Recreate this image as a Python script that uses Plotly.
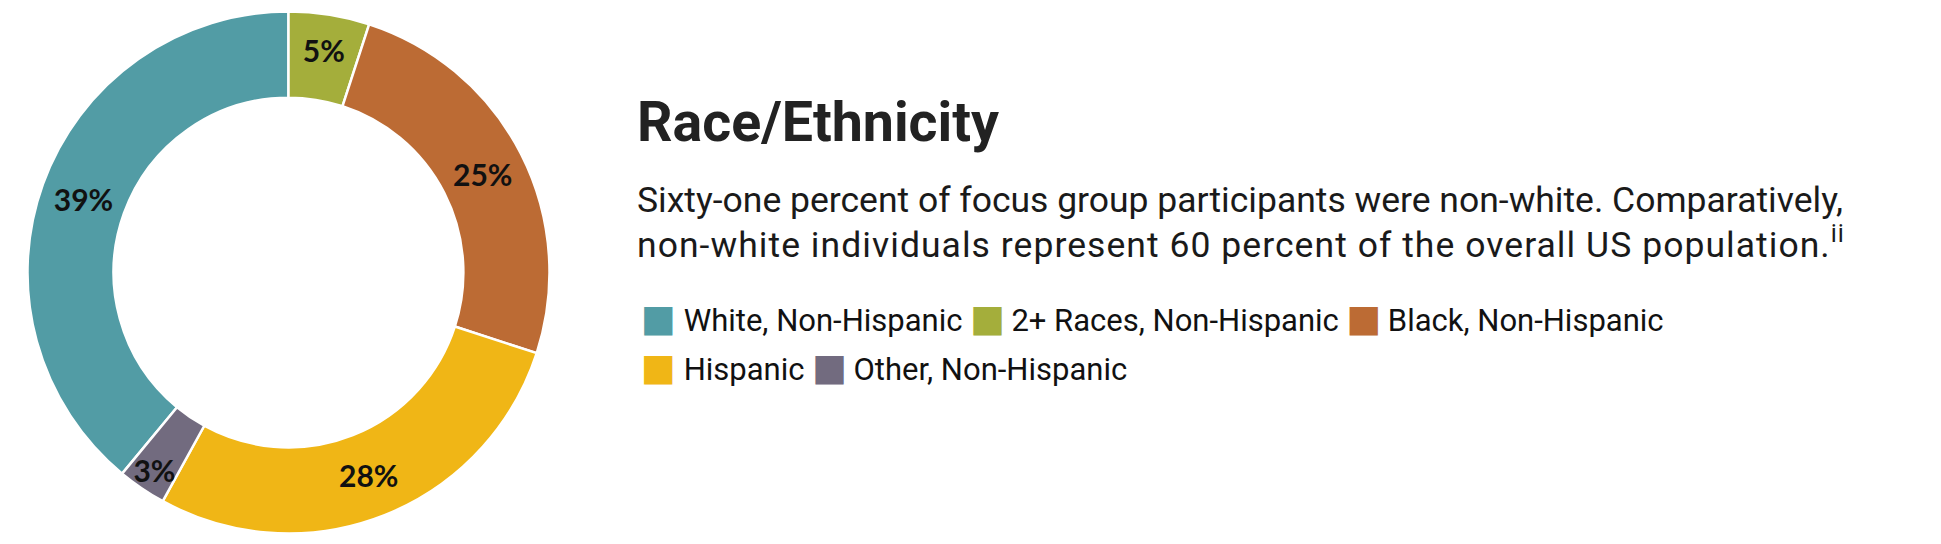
import plotly.graph_objects as go

# ---- data ----
labels = ["White, Non-Hispanic", "2+ Races, Non-Hispanic", "Black, Non-Hispanic",
          "Hispanic", "Other, Non-Hispanic"]
values = [39, 5, 25, 28, 3]
colors = ["#529CA5", "#A4AE3B", "#BC6B34", "#F0B616", "#726B7F"]

title_text = "Race/Ethnicity"
body_lines = [
    "Sixty-one percent of focus group participants were non-white. Comparatively,",
    "non-white individuals represent 60 percent of the overall US population.<sup>ii</sup>",
]
legend_rows = [[0, 1, 2], [3, 4]]

W, H = 1941, 544


def px_x(v):
    return v / W


def px_y(v):
    return 1 - v / H


fig = go.Figure()
fig.add_trace(go.Pie(
    labels=labels,
    values=values,
    marker=dict(colors=colors, line=dict(color="white", width=2.5)),
    hole=0.67,
    sort=False,
    direction="clockwise",
    rotation=360 * sum(values[1:]) / sum(values),
    textinfo="percent",
    textposition="inside",
    insidetextorientation="horizontal",
    textfont=dict(family="Lato", size=30, color="#111111", weight=700),
    domain=dict(x=[px_x(19.5), px_x(541.5)], y=[px_y(525.5), px_y(3.5)]),
    hoverinfo="skip",
    showlegend=False,
))

annotations = [
    dict(text=title_text, x=px_x(627), y=px_y(114), xanchor="left", yanchor="middle",
         font=dict(family="Roboto", size=55.5, color="#222222", weight=700)),
]
# second line of the paragraph is set a little looser in the original
body_y = [192, 234]
body_spacing = ["0px", "1.05px"]
for line, yy, ls in zip(body_lines, body_y, body_spacing):
    annotations.append(dict(text=f"<span style='letter-spacing:{ls}'>{line}</span>",
                            x=px_x(627), y=px_y(yy),
                            xanchor="left", yanchor="middle",
                            font=dict(family="Roboto", size=35.5, color="#1a1a1a")))

# legend rows built from the label / colour lists
legend_y = [310, 359]
for row, yy in zip(legend_rows, legend_y):
    parts = []
    for j, k in enumerate(row):
        gap = "\u00a0" if j == 0 else "\u2009"
        parts.append(
            f"<span style='color:{colors[k]};font-family:DejaVu Sans;font-size:37px'>■</span>"
            f"{gap}{labels[k]}"
        )
    annotations.append(dict(text="\u00a0".join(parts), x=px_x(631), y=px_y(yy),
                            xanchor="left", yanchor="middle",
                            font=dict(family="Roboto", size=31, color="#111111")))

for a in annotations:
    a.update(xref="paper", yref="paper", showarrow=False)

fig.update_layout(
    width=W, height=H,
    margin=dict(l=0, r=0, t=0, b=0),
    paper_bgcolor="white",
    plot_bgcolor="white",
    annotations=annotations,
    uniformtext=dict(minsize=30, mode="show"),
)

fig.write_html("out.html")
